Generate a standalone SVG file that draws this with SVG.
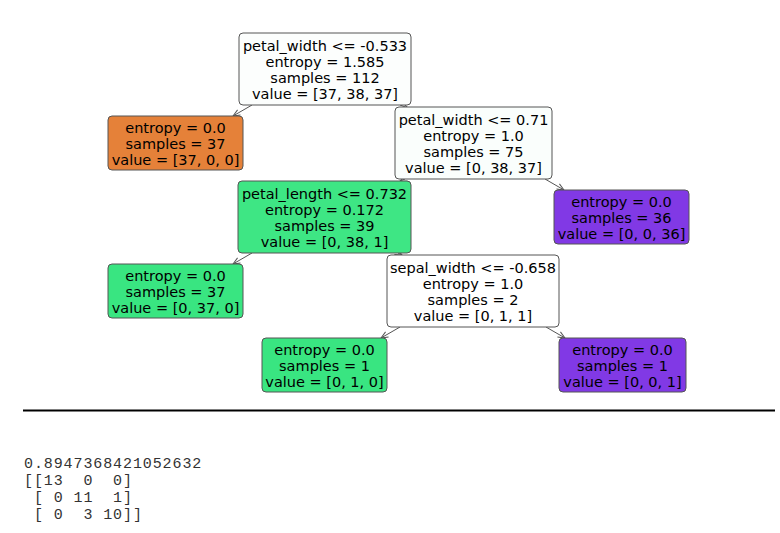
<svg xmlns="http://www.w3.org/2000/svg" width="780" height="533" viewBox="0 0 780 533">
<style>
.box{stroke:#555;stroke-width:1}
.t{font-family:"DejaVu Sans",sans-serif;font-size:14.5px;fill:#000;text-anchor:middle}
.e{stroke:#555;stroke-width:1;fill:none;marker-end:url(#ah)}
.m{font-family:"Liberation Mono",monospace;font-size:15px;letter-spacing:0.9px;fill:#333;white-space:pre}
</style>
<defs>
<marker id="ah" markerWidth="10" markerHeight="10" refX="8" refY="4" orient="auto" markerUnits="userSpaceOnUse">
<path d="M1,1 L8,4 L1,7" fill="none" stroke="#555" stroke-width="1"/>
</marker>
</defs>
<rect width="780" height="533" fill="#fff"/>
<g id="connectors">
<path class="e" d="M252,105 L233,116"/>
<path class="e" d="M400,105 L408,108"/>
<path class="e" d="M545,179 L564,190"/>
<path class="e" d="M405,179 L400,181"/>
<path class="e" d="M252,253 L233,264"/>
<path class="e" d="M398,253 L402,255"/>
<path class="e" d="M400,327 L381,338"/>
<path class="e" d="M546,327 L565,338"/>
</g>
<g id="n0">
<rect class="box" x="239" y="33" width="172" height="72" rx="4" fill="#fcfefd"/>
<text class="t" x="325" y="51">petal_width &lt;= -0.533</text>
<text class="t" x="325" y="67">entropy = 1.585</text>
<text class="t" x="325" y="83">samples = 112</text>
<text class="t" x="325" y="99">value = [37, 38, 37]</text>
</g>
<g id="n1">
<rect class="box" x="108" y="116" width="135" height="54" rx="4" fill="#e58139"/>
<text class="t" x="175.5" y="132.5">entropy = 0.0</text>
<text class="t" x="175.5" y="148.5">samples = 37</text>
<text class="t" x="175.5" y="164.5">value = [37, 0, 0]</text>
</g>
<g id="n2">
<rect class="box" x="395" y="107" width="157" height="72" rx="4" fill="#fafefc"/>
<text class="t" x="473.5" y="125">petal_width &lt;= 0.71</text>
<text class="t" x="473.5" y="141">entropy = 1.0</text>
<text class="t" x="473.5" y="157">samples = 75</text>
<text class="t" x="473.5" y="173">value = [0, 38, 37]</text>
</g>
<g id="n3">
<rect class="box" x="238" y="181" width="173" height="72" rx="4" fill="#3ee684"/>
<text class="t" x="324.5" y="199">petal_length &lt;= 0.732</text>
<text class="t" x="324.5" y="215">entropy = 0.172</text>
<text class="t" x="324.5" y="231">samples = 39</text>
<text class="t" x="324.5" y="247">value = [0, 38, 1]</text>
</g>
<g id="n4">
<rect class="box" x="554" y="190" width="135" height="54" rx="4" fill="#8139e5"/>
<text class="t" x="621.5" y="206.5">entropy = 0.0</text>
<text class="t" x="621.5" y="222.5">samples = 36</text>
<text class="t" x="621.5" y="238.5">value = [0, 0, 36]</text>
</g>
<g id="n5">
<rect class="box" x="108" y="264" width="135" height="54" rx="4" fill="#39e581"/>
<text class="t" x="175.5" y="280.5">entropy = 0.0</text>
<text class="t" x="175.5" y="296.5">samples = 37</text>
<text class="t" x="175.5" y="312.5">value = [0, 37, 0]</text>
</g>
<g id="n6">
<rect class="box" x="387" y="255" width="172" height="72" rx="4" fill="#ffffff"/>
<text class="t" x="473" y="273">sepal_width &lt;= -0.658</text>
<text class="t" x="473" y="289">entropy = 1.0</text>
<text class="t" x="473" y="305">samples = 2</text>
<text class="t" x="473" y="321">value = [0, 1, 1]</text>
</g>
<g id="n7">
<rect class="box" x="262" y="338" width="125" height="54" rx="4" fill="#39e581"/>
<text class="t" x="324.5" y="354.5">entropy = 0.0</text>
<text class="t" x="324.5" y="370.5">samples = 1</text>
<text class="t" x="324.5" y="386.5">value = [0, 1, 0]</text>
</g>
<g id="n8">
<rect class="box" x="559" y="338" width="127" height="54" rx="4" fill="#8139e5"/>
<text class="t" x="622.5" y="354.5">entropy = 0.0</text>
<text class="t" x="622.5" y="370.5">samples = 1</text>
<text class="t" x="622.5" y="386.5">value = [0, 0, 1]</text>
</g>
<line x1="23" y1="410.5" x2="775" y2="410.5" stroke="#000" stroke-width="2"/>
<g id="output">
<text class="m" x="24" y="468" xml:space="preserve">0.8947368421052632</text>
<text class="m" x="24" y="485" xml:space="preserve">[[13  0  0]</text>
<text class="m" x="24" y="502" xml:space="preserve"> [ 0 11  1]</text>
<text class="m" x="24" y="519" xml:space="preserve"> [ 0  3 10]]</text>
</g>
</svg>
